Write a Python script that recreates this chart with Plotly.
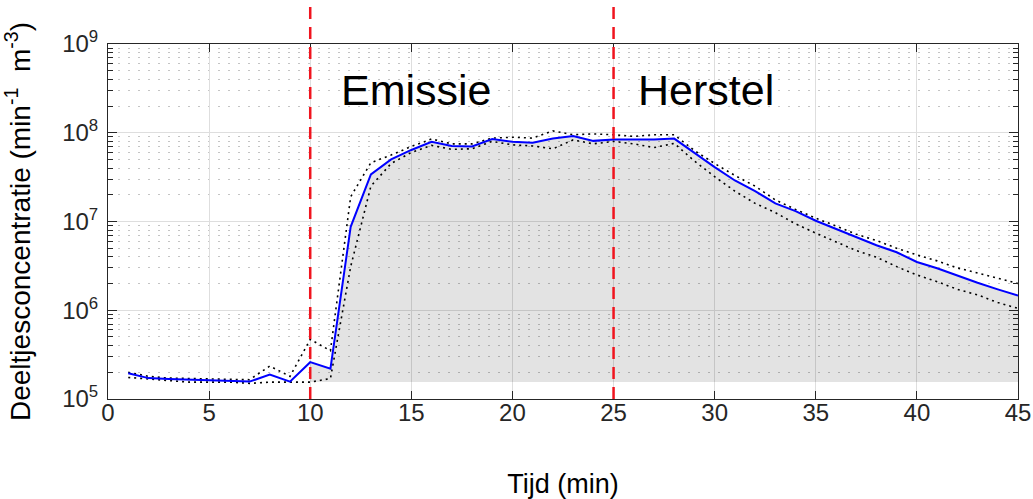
import plotly.graph_objects as go

# ---- data ----
time_min = list(range(1, 46))
mean_conc = [1.95e5, 1.72e5, 1.68e5, 1.65e5, 1.60e5, 1.60e5, 1.57e5, 1.88e5, 1.57e5, 2.6e5,
             2.2e5, 8.7e6, 3.4e7, 5.0e7, 6.4e7, 7.9e7, 7.1e7, 7.0e7, 8.5e7, 7.9e7,
             7.7e7, 8.6e7, 9.2e7, 8.1e7, 8.4e7, 8.4e7, 8.4e7, 8.6e7, 5.9e7, 4.1e7,
             2.9e7, 2.2e7, 1.6e7, 1.31e7, 1.02e7, 8.2e6, 6.6e6, 5.4e6, 4.5e6, 3.5e6,
             2.97e6, 2.45e6, 2.04e6, 1.72e6, 1.46e6]
upper_conc = [2.0e5, 1.8e5, 1.72e5, 1.7e5, 1.68e5, 1.65e5, 1.65e5, 2.35e5, 1.8e5, 4.7e5,
              3.5e5, 1.9e7, 4.6e7, 5.6e7, 7.0e7, 8.5e7, 7.5e7, 7.5e7, 8.7e7, 8.9e7,
              8.7e7, 1.05e8, 9.5e7, 9.7e7, 9.5e7, 9.1e7, 9.5e7, 9.5e7, 6.3e7, 4.5e7,
              3.3e7, 2.5e7, 1.75e7, 1.37e7, 1.09e7, 8.9e6, 7.2e6, 6.1e6, 5.0e6, 4.2e6,
              3.6e6, 3.0e6, 2.6e6, 2.3e6, 2.0e6]
lower_conc = [1.75e5, 1.68e5, 1.6e5, 1.55e5, 1.55e5, 1.55e5, 1.5e5, 1.55e5, 1.55e5, 1.55e5,
              1.7e5, 3.1e6, 2.5e7, 4.5e7, 6.0e7, 7.2e7, 6.5e7, 6.6e7, 8.0e7, 7.3e7,
              7.1e7, 6.6e7, 8.3e7, 7.5e7, 8.0e7, 7.5e7, 6.8e7, 7.6e7, 4.8e7, 3.2e7,
              2.2e7, 1.6e7, 1.26e7, 9.4e6, 7.4e6, 5.9e6, 4.7e6, 3.96e6, 3.1e6, 2.5e6,
              2.1e6, 1.72e6, 1.49e6, 1.22e6, 1.05e6]
background_level = 1.55e5
fill_start = 10
phase_bounds = [10, 25]
phase_labels = ["Emissie", "Herstel"]
phase_label_x = [11.4, 26.1]
x_ticks = [0, 5, 10, 15, 20, 25, 30, 35, 40, 45]
y_tick_vals = [1e5, 1e6, 1e7, 1e8, 1e9]
y_tick_text = ["10<sup>5</sup>", "10<sup>6</sup>", "10<sup>7</sup>", "10<sup>8</sup>", "10<sup>9</sup>"]

FONT = "Liberation Sans, Arial, Helvetica, sans-serif"
AX = "#262626"

fill_x = [t for t in time_min if t >= fill_start]
fill_y = [v for t, v in zip(time_min, mean_conc) if t >= fill_start]

fig = go.Figure()
# shaded area
fig.add_trace(go.Scatter(x=fill_x, y=[background_level] * len(fill_x), mode="lines",
                         line=dict(width=0), hoverinfo="skip", showlegend=False))
fig.add_trace(go.Scatter(x=fill_x, y=fill_y, mode="lines", line=dict(width=0),
                         fill="tonexty", fillcolor="rgba(0,0,0,0.11)",
                         hoverinfo="skip", showlegend=False))
# bounds
for arr in (upper_conc, lower_conc):
    fig.add_trace(go.Scatter(x=time_min, y=arr, mode="lines",
                             line=dict(color="black", width=1.6, dash="2px,4px"),
                             showlegend=False))
# mean
fig.add_trace(go.Scatter(x=time_min, y=mean_conc, mode="lines",
                         line=dict(color="#0000ff", width=2), showlegend=False))

for xb in phase_bounds:
    fig.add_shape(type="line", xref="x", yref="paper", x0=xb, x1=xb, y0=0, y1=1.11,
                  line=dict(color="#f0141e", width=2.5, dash="12px,8px"), layer="above")

for lab, lx in zip(phase_labels, phase_label_x):
    fig.add_annotation(x=lx, y=8.48, xref="x", yref="y", text=lab, showarrow=False,
                       xanchor="left", yanchor="middle",
                       font=dict(family=FONT, size=43, color="black"))

fig.update_layout(
    width=1033, height=499,
    margin=dict(l=108, r=15, t=44, b=100),
    paper_bgcolor="white", plot_bgcolor="white",
    font=dict(family=FONT, color=AX),
)
fig.update_xaxes(
    range=[0, 45], tickvals=x_ticks, ticks="inside", ticklen=8, tickcolor=AX,
    showline=True, linecolor=AX, linewidth=1, mirror="ticks", automargin=False,
    showgrid=True, gridcolor="#dedede", gridwidth=1, zeroline=False,
    ticklabelstandoff=-8,
    tickfont=dict(family=FONT, size=24, color=AX),
    title=dict(text="Tijd (min)", font=dict(family=FONT, size=27, color="black"), standoff=50),
)
fig.update_yaxes(
    type="log", range=[5, 9], tickvals=y_tick_vals, ticktext=y_tick_text,
    ticks="inside", ticklen=9, tickcolor=AX, automargin=False,
    showline=True, linecolor=AX, linewidth=1, mirror="ticks",
    showgrid=True, gridcolor="#dedede", gridwidth=1, zeroline=False,
    ticklabelstandoff=4,
    minor=dict(dtick="D1", ticks="inside", ticklen=5, tickcolor=AX,
               showgrid=True, gridcolor="#c4c4c4", gridwidth=1, griddash="2px,8px"),
    tickfont=dict(family=FONT, size=24, color=AX),
    title=dict(text="Deeltjesconcentratie (min<sup>-1</sup>  m<sup>-3</sup>)",
               font=dict(family=FONT, size=28, color="black"), standoff=30),
)

fig.write_html("out.html", config={"displayModeBar": False},
               post_script="document.body.style.margin='0';document.body.style.overflow='hidden';")
